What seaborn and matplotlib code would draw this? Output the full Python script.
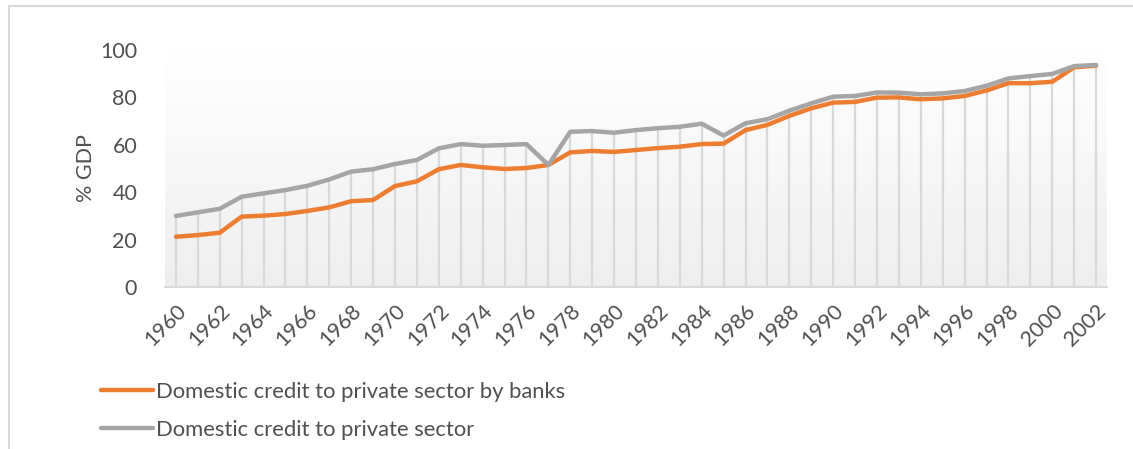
import numpy as np
import pandas as pd
import seaborn as sns
import matplotlib.pyplot as plt
from matplotlib.patches import Rectangle

# values (% of GDP)
years = list(range(1960, 2003))
by_banks = [21.2, 21.9, 22.9, 29.7, 30.1, 30.8, 32.1, 33.6, 36.2, 36.7,
            42.6, 44.6, 49.7, 51.5, 50.5, 49.8, 50.2, 51.5, 56.8, 57.4,
            57.0, 57.8, 58.6, 59.2, 60.3, 60.5, 66.2, 68.4, 72.2, 75.4,
            77.8, 78.1, 79.9, 80.0, 79.2, 79.6, 80.6, 82.9, 86.0, 86.0,
            86.6, 92.7, 93.4]
private = [30.0, 31.5, 33.0, 38.1, 39.5, 40.9, 42.7, 45.4, 48.7, 49.7,
           51.9, 53.6, 58.5, 60.3, 59.6, 59.9, 60.3, 51.5, 65.5, 65.8,
           65.1, 66.2, 67.0, 67.6, 68.9, 63.9, 69.1, 70.8, 74.4, 77.5,
           80.3, 80.6, 82.1, 82.0, 81.3, 81.7, 82.7, 84.9, 88.0, 89.0,
           89.9, 93.2, 93.7]
series_names = ['Domestic credit to private sector by banks',
                'Domestic credit to private sector']
colors = {series_names[0]: '#ED7D31', series_names[1]: '#A5A5A5'}

df = pd.DataFrame({
    'year': years * 2,
    'value': by_banks + private,
    'series': [series_names[0]] * len(years) + [series_names[1]] * len(years),
})

sns.set_style('white')
plt.rcParams['font.family'] = ['Lato', 'DejaVu Sans']
txt = '#505050'

W, H = 1133, 449
fig = plt.figure(figsize=(W / 100, H / 100), dpi=100)
ax = fig.add_axes([165 / W, 1 - 287 / H, (1107 - 165) / W, (287 - 50) / H])

# chart frame (only top and left edges are visible in the crop)
fig.add_artist(Rectangle((9 / W, -0.5), 2, 0.5 + 1 - 5.5 / H, transform=fig.transFigure,
                         fill=False, edgecolor='#d9d9d9', lw=1.5))

# plot-area gradient, white at top to light grey at bottom
grad = np.linspace(1.0, 0.935, 256).reshape(-1, 1)
ax.imshow(np.dstack([grad, grad, grad]), extent=(1959.5, 2002.5, 0, 100),
          aspect='auto', zorder=0, origin='upper')

# drop lines from the upper series to the axis
ax.vlines(years, 0, private, color='#d9d9d9', lw=1.6, zorder=1)

sns.lineplot(data=df, x='year', y='value', hue='series', hue_order=series_names,
             palette=colors, lw=3.2, ax=ax, zorder=3)

ax.set_xlim(1959.5, 2002.5)
ax.set_ylim(0, 100)
ax.set_xticks(years[::2])
ax.set_xticklabels([str(y) for y in years[::2]], rotation=45, ha='right',
                   rotation_mode='anchor')
ax.set_yticks(range(0, 101, 20))
ax.tick_params(axis='both', length=0, colors=txt)
ax.tick_params(axis='x', pad=10, labelsize=15.5)
ax.tick_params(axis='y', pad=20, labelsize=15.5)
ax.set_xlabel('')
ax.set_ylabel('% GDP', color=txt, fontsize=15.5, labelpad=3)

for s in ['top', 'right', 'left']:
    ax.spines[s].set_visible(False)
ax.spines['bottom'].set_color('#d9d9d9')
ax.spines['bottom'].set_linewidth(1.5)
ax.spines['bottom'].set_zorder(2)

sns.move_legend(ax, 'upper left', bbox_to_anchor=(92 / W, 1 - 373 / H),
                bbox_transform=fig.transFigure, frameon=False, title=None,
                fontsize=15.8, handlelength=2.4, handletextpad=0.1,
                labelspacing=0.82, borderaxespad=0)
for t in ax.get_legend().get_texts():
    t.set_color(txt)

fig.savefig('out.png', dpi=100)
